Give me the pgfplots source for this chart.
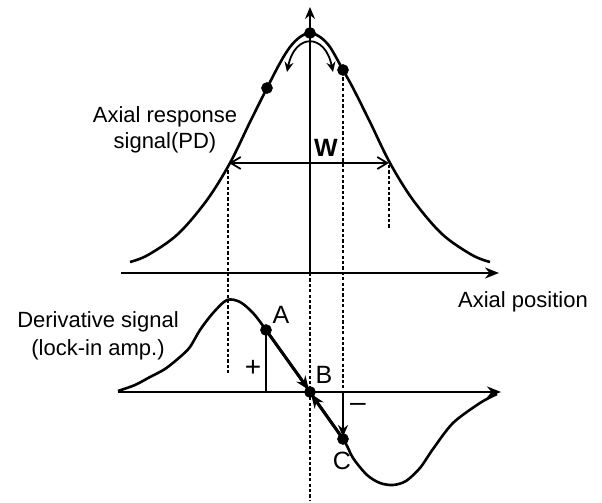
\documentclass[border=0pt]{standalone}
\usepackage{pgfplots}
\pgfplotsset{compat=1.18}
\usepackage{pgfplotstable}
\usetikzlibrary{arrows.meta}
\usepackage{fontspec}
\setmainfont{Liberation Sans}

\tikzset{dashline/.style={line width=0.6pt, dash pattern=on 1.6pt off 1.1pt}}

% Axial response (photodiode) signal, drawing units
\pgfplotstableread{
x y
130 262
148 255
178 234
207 200
230 163
250 122
267 88
280 63
290 47
300 37
310 33
320 37
330 47
343 70
353 88
370 122
390 163
413 200
442 234
472 255
490 262
}\response

% Derivative signal (lock-in amplifier)
\pgfplotstableread{
x y
118 391
135 385
150 377
165 369
180 357
190 347
200 330
213 313
227 300
240 302
253 313
266 330
310 392
343 439
353 458
367 475
380 483
393 485
406 481
420 468
433 449
453 423
480 403
497 394
}\derivative

% Marked operating points
\pgfplotstableread{
x y
310 33
267 88
343 70
}\respdots
\pgfplotstableread{
x y
266 330
310 392
343 439
}\derivdots

\begin{document}
\begin{tikzpicture}[font=\fontsize{11}{13}\selectfont]
\begin{axis}[
  scale only axis, width=301pt, height=251.5pt,
  xmin=0, xmax=602, ymin=0, ymax=503, y dir=reverse,
  axis lines=none, clip=false,
]
\path (rel axis cs:0,0) rectangle (rel axis cs:1,1);

% guide lines
\draw[dashline] (axis cs:228,165) -- (axis cs:228,375);
\draw[dashline] (axis cs:389,165) -- (axis cs:389,228);
\draw[dashline] (axis cs:343,72) -- (axis cs:343,392);
\draw[dashline] (axis cs:310,273) -- (axis cs:310,500);

% axes
\draw[line width=1.1pt, -{Stealth[length=7pt,width=5.5pt]}] (axis cs:121,273) -- (axis cs:499,273);
\draw[line width=1.1pt, -{Stealth[length=7pt,width=5.5pt]}] (axis cs:118,392) -- (axis cs:501,392);
\draw[line width=0.9pt, -{Stealth[length=6pt,width=5pt]}] (axis cs:310,273) -- (axis cs:310,7);

% curves
\addplot[black, line width=1.3pt, smooth, tension=0.55] table {\response};
\addplot[black, line width=1.3pt, smooth, tension=0.5] table {\derivative};

% width W
\draw[line width=0.9pt, {Straight Barb[length=5pt,width=6pt]}-{Straight Barb[length=5pt,width=6pt]}] (axis cs:229,163) -- (axis cs:389,163);
\node[font=\fontsize{12.5}{14}\selectfont\bfseries] at (axis cs:326,148) {W};

% modulation arc
\draw[line width=0.9pt, {Stealth[length=5pt,width=4.5pt]}-{Stealth[length=5pt,width=4.5pt]}]
  (axis cs:287,72) .. controls (axis cs:295,33) and (axis cs:325,33) .. (axis cs:333,72);

% lock-in construction
\draw[line width=0.9pt] (axis cs:266,392) -- (axis cs:266,332);
\draw[line width=0.9pt, -{Stealth[length=6pt,width=5pt]}] (axis cs:343,392) -- (axis cs:343,437);
\draw[line width=1.5pt, -{Stealth[length=7pt,width=5.5pt]}] (axis cs:266,330) -- (axis cs:309,390);
\draw[line width=1.5pt, -{Stealth[length=7pt,width=5.5pt]}] (axis cs:343,439) -- (axis cs:311,394);

\addplot[only marks, mark=*, mark size=2.7pt, black] table {\respdots};
\addplot[only marks, mark=*, mark size=2.7pt, black] table {\derivdots};

% labels
\node[align=center] at (axis cs:165,130) {Axial response\\signal(PD)};
\node[align=center, font=\fontsize{11}{14}\selectfont] at (axis cs:98,336) {Derivative signal\\(lock-in amp.)};
\node at (axis cs:523,302) {Axial position};
\node[font=\fontsize{12.5}{14}\selectfont] at (axis cs:281,315) {A};
\node[font=\fontsize{12.5}{14}\selectfont] at (axis cs:324,375) {B};
\node[font=\fontsize{12.5}{14}\selectfont] at (axis cs:342,461) {C};
\node[font=\fontsize{14}{16}\selectfont] at (axis cs:253,368) {+};
\node[font=\fontsize{14}{16}\selectfont] at (axis cs:358,407) {\textendash};
\end{axis}
\end{tikzpicture}
\end{document}
